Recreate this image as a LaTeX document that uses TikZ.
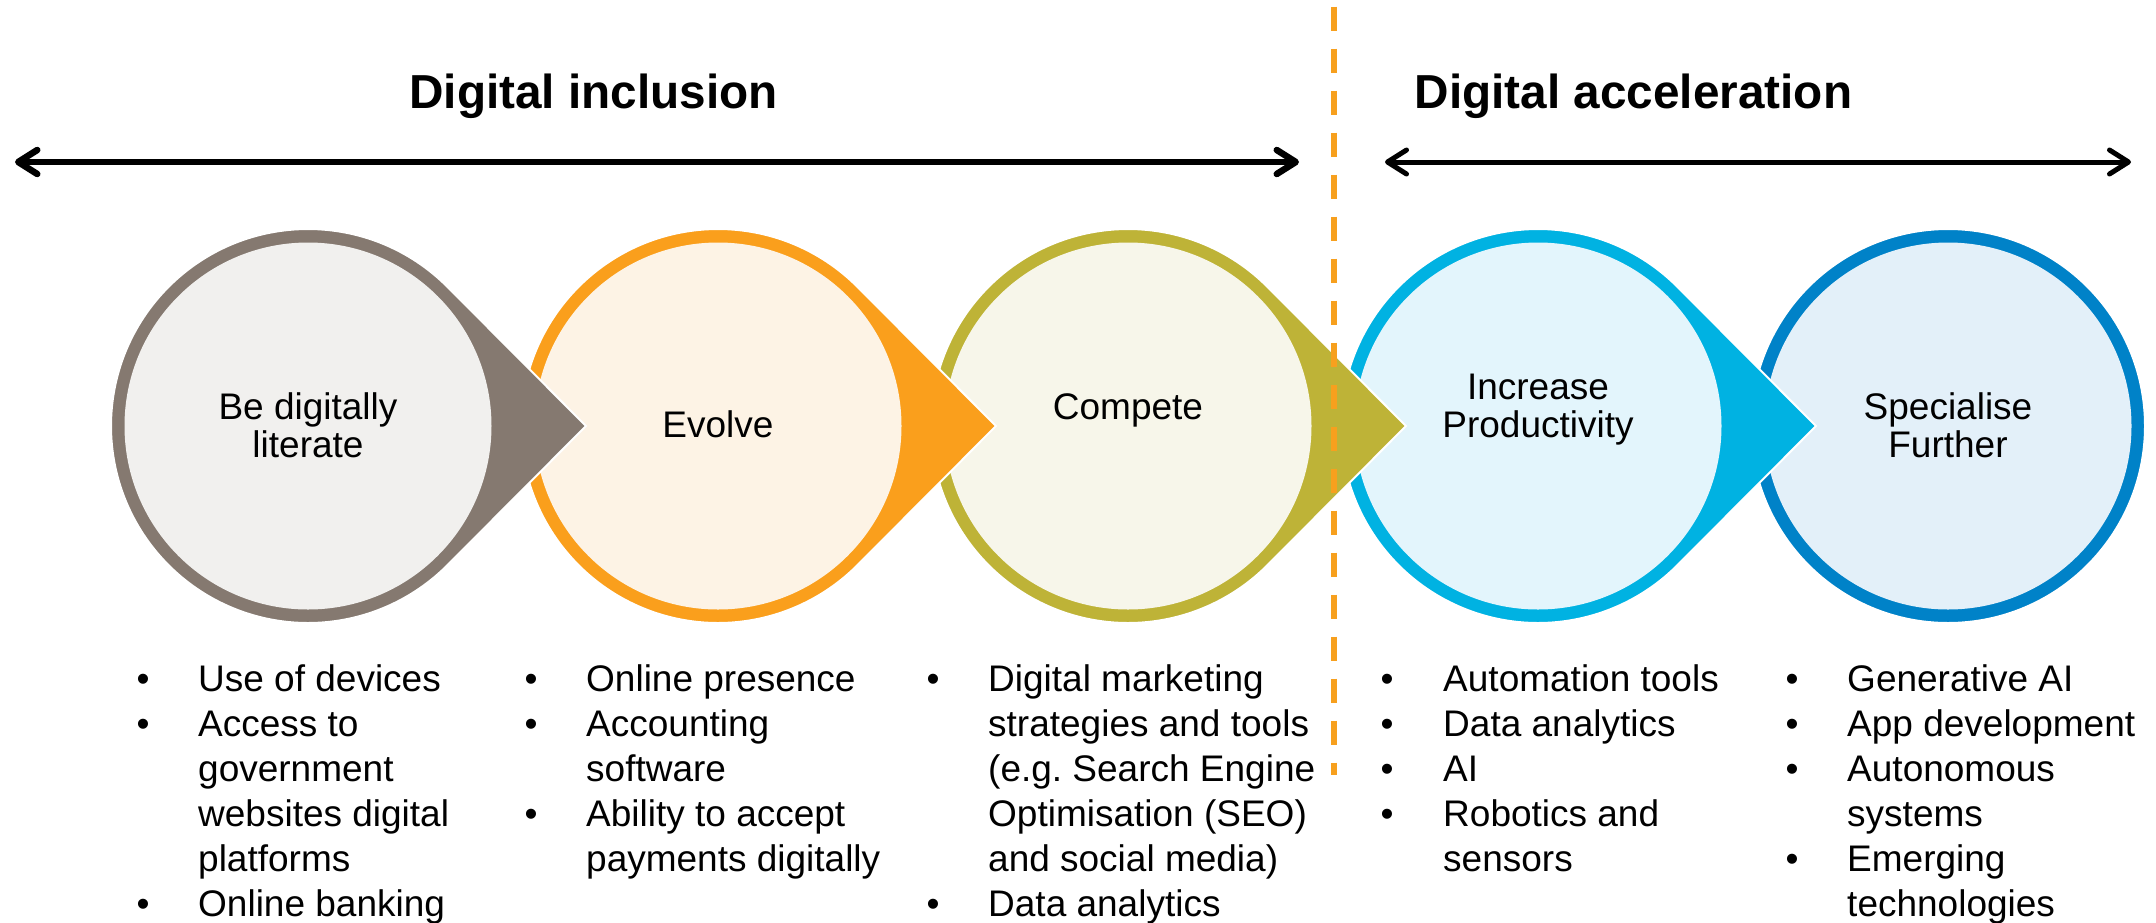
\documentclass[tikz,border=0pt]{standalone}
\usepackage{fontspec}
\setmainfont{Liberation Sans}
\usetikzlibrary{arrows.meta,calc}
\frenchspacing

\definecolor{greyring}{HTML}{857970}
\definecolor{greyfill}{HTML}{F1F0EE}
\definecolor{orangering}{HTML}{FA9F1C}
\definecolor{orangefill}{HTML}{FDF3E5}
\definecolor{olivering}{HTML}{BEB337}
\definecolor{olivefill}{HTML}{F7F6EA}
\definecolor{cyanring}{HTML}{00B2E2}
\definecolor{cyanfill}{HTML}{E3F5FC}
\definecolor{bluering}{HTML}{0082C8}
\definecolor{bluefill}{HTML}{E3F0F9}
\definecolor{divider}{HTML}{F7A01E}

% teardrop: #1 centre x, #2 ring colour, #3 fill colour
\newcommand\tdshape[3]{%
  \fill[#2, draw=white, line width=2pt] (#1+278,-426) -- ($(#1,-426)+(44.9:197)$)
     arc[start angle=44.9, end angle=315.1, radius=197] -- cycle;
  \fill[#3] (#1,-426) circle[radius=183.5];
}

\begin{document}
\begin{tikzpicture}[x=1pt,y=1pt,
  title/.style={font=\fontsize{47.7}{57}\selectfont\bfseries, inner sep=0pt, anchor=base},
  lbl/.style={font=\fontsize{37}{38}\selectfont, inner sep=0pt, anchor=base},
  itm/.style={font=\fontsize{37}{45}\selectfont, inner sep=0pt, anchor=base west},
  bul/.style={font=\fontsize{37}{45}\selectfont, inner sep=0pt, anchor=base},
  barb/.tip={Straight Barb[length=19pt,width=24pt,line cap=round,line join=round]},
  spanarrow/.style={line width=#1, black, {barb}-{barb}},
  divline/.style={divider, line width=6pt, dash pattern=on 24pt off 18pt}]

\useasboundingbox (0,0) rectangle (2156,-922);
\clip (0,0) rectangle (2156,-922);

% circles, drawn right to left so each tip lies over the next circle
\fill[bluering, draw=white, line width=2pt] (1948,-426) circle[radius=197];
\fill[bluefill] (1948,-426) circle[radius=183.5];
\tdshape{1538}{cyanring}{cyanfill}
\tdshape{1128}{olivering}{olivefill}
\tdshape{718}{orangering}{orangefill}
\tdshape{308}{greyring}{greyfill}

% divider
\coordinate (divT) at (1334,-6.7);
\coordinate (divB) at (1334,-775);
\draw[divline] (divT) -- (divB);

% titles and span arrows
\node[title] (tinc) at (593.5,-108) {Digital inclusion};
\node[title] (tacc) at (1633.5,-108) {Digital acceleration};
\coordinate (incL) at (15,-162);
\coordinate (incR) at (1299,-162);
\coordinate (accL) at (1385,-162);
\coordinate (accR) at (2131,-162);
\draw[spanarrow=6.5pt] (incL) -- (incR);
\draw[spanarrow=5pt] (accL) -- (accR);

% circle labels
\node[lbl] (l1a) at (308,-419) {Be digitally};
\node[lbl] (l1b) at (308,-457) {literate};
\node[lbl] (l2a) at (718,-437.5) {Evolve};
\node[lbl] (l3a) at (1128,-419) {Compete};
\node[lbl] (l4a) at (1538,-399) {Increase};
\node[lbl] (l4b) at (1538,-437) {Productivity};
\node[lbl] (l5a) at (1948,-419) {Specialise};
\node[lbl] (l5b) at (1948,-457) {Further};

% column 1
\node[bul] (b1a) at (143,-691) {•};
\node[itm] (t1a) at (198,-691) {Use of devices};
\node[bul] (b1b) at (143,-736) {•};
\node[itm] (t1b) at (198,-736) {Access to};
\node[itm] (t1c) at (198,-781) {government};
\node[itm] (t1d) at (198,-826) {websites digital};
\node[itm] (t1e) at (198,-871) {platforms};
\node[bul] (b1f) at (143,-916) {•};
\node[itm] (t1f) at (198,-916) {Online banking};

% column 2
\node[bul] (b2a) at (531,-691) {•};
\node[itm] (t2a) at (586,-691) {Online presence};
\node[bul] (b2b) at (531,-736) {•};
\node[itm] (t2b) at (586,-736) {Accounting};
\node[itm] (t2c) at (586,-781) {software};
\node[bul] (b2d) at (531,-826) {•};
\node[itm] (t2d) at (586,-826) {Ability to accept};
\node[itm] (t2e) at (586,-871) {payments digitally};

% column 3
\node[bul] (b3a) at (933,-691) {•};
\node[itm] (t3a) at (988,-691) {Digital marketing};
\node[itm] (t3b) at (988,-736) {strategies and tools};
\node[itm] (t3c) at (988,-781) {(e.g. Search Engine};
\node[itm] (t3d) at (988,-826) {Optimisation (SEO)};
\node[itm] (t3e) at (988,-871) {and social media)};
\node[bul] (b3f) at (933,-916) {•};
\node[itm] (t3f) at (988,-916) {Data analytics};

% column 4
\node[bul] (b4a) at (1387,-691) {•};
\node[itm] (t4a) at (1443,-691) {Automation tools};
\node[bul] (b4b) at (1387,-736) {•};
\node[itm] (t4b) at (1443,-736) {Data analytics};
\node[bul] (b4c) at (1387,-781) {•};
\node[itm] (t4c) at (1443,-781) {AI};
\node[bul] (b4d) at (1387,-826) {•};
\node[itm] (t4d) at (1443,-826) {Robotics and};
\node[itm] (t4e) at (1443,-871) {sensors};

% column 5
\node[bul] (b5a) at (1792,-691) {•};
\node[itm] (t5a) at (1847,-691) {Generative AI};
\node[bul] (b5b) at (1792,-736) {•};
\node[itm] (t5b) at (1847,-736) {App development};
\node[bul] (b5c) at (1792,-781) {•};
\node[itm] (t5c) at (1847,-781) {Autonomous};
\node[itm] (t5d) at (1847,-826) {systems};
\node[bul] (b5e) at (1792,-871) {•};
\node[itm] (t5e) at (1847,-871) {Emerging};
\node[itm] (t5f) at (1847,-916) {technologies};
\end{tikzpicture}
\end{document}
